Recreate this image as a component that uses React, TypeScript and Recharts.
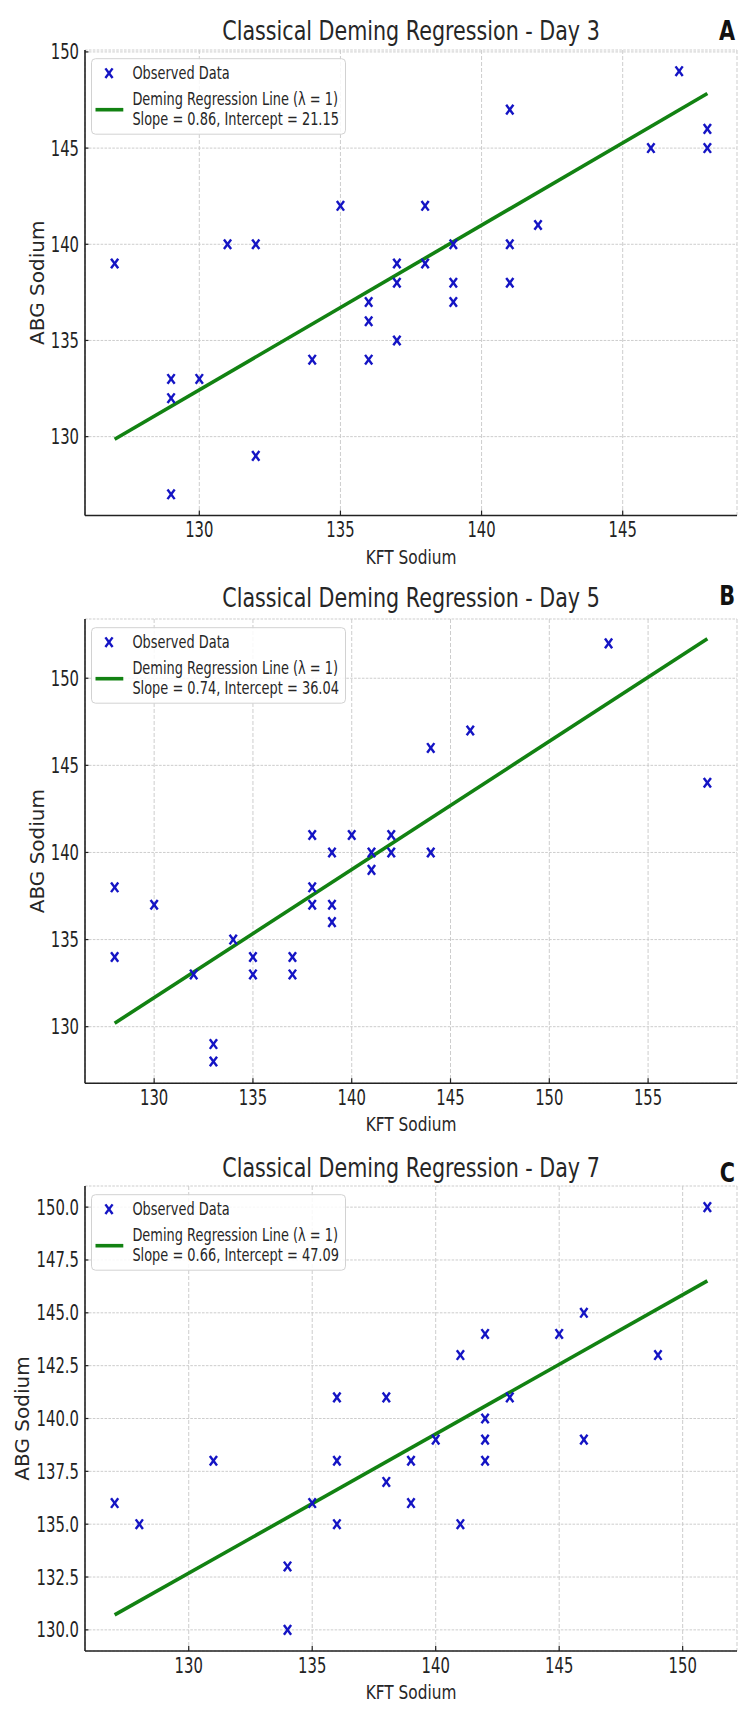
import React from "react";
import { ScatterChart, Scatter, XAxis, YAxis, CartesianGrid } from "recharts";

// KFT vs ABG sodium readings, one pair of arrays per day
const day3Kft = [127, 131, 132, 135, 138, 137, 138, 139, 141, 141, 142, 146, 147, 148, 148, 137, 139, 141, 139, 136, 136, 137, 134, 136, 129, 130, 129, 132, 129];
const day3Abg = [139, 140, 140, 142, 142, 139, 139, 140, 140, 147, 141, 145, 149, 146, 145, 138, 138, 138, 137, 137, 136, 135, 134, 134, 133, 133, 132, 129, 127];

const day5Kft = [153, 146, 144, 158, 138, 140, 142, 139, 141, 142, 144, 141, 128, 130, 138, 138, 139, 139, 134, 128, 135, 137, 132, 135, 137, 133, 133];
const day5Abg = [152, 147, 146, 144, 141, 141, 141, 140, 140, 140, 140, 139, 138, 137, 138, 137, 137, 136, 135, 134, 134, 134, 133, 133, 133, 129, 128];

const day7Kft = [151, 146, 142, 145, 141, 149, 136, 138, 143, 142, 140, 142, 146, 131, 136, 139, 142, 138, 127, 135, 139, 128, 136, 141, 134, 134];
const day7Abg = [150, 145, 144, 144, 143, 143, 141, 141, 141, 140, 139, 139, 139, 138, 138, 138, 138, 137, 136, 136, 136, 135, 135, 135, 133, 130];

// Deming fit (lambda = 1) per day
const slopes = [0.856, 0.7356, 0.6584];
const intercepts = [21.15, 36.04, 47.09];

const dayNames = ["Day 3", "Day 5", "Day 7"];
const panelLetters = ["A", "B", "C"];

// tick labels
const xTicks = [
  [130, 135, 140, 145],
  [130, 135, 140, 145, 150, 155],
  [130, 135, 140, 145, 150],
];
const yTicks = [
  [130, 135, 140, 145, 150],
  [130, 135, 140, 145, 150],
  [130, 132.5, 135, 137.5, 140, 142.5, 145, 147.5, 150],
];
const yTickDecimals = [0, 0, 1];

const FONT = '"DejaVu Sans", Verdana, sans-serif';
const BLUE = "#1414c4";
const GREEN = "#128212";
const INK = "#222";
const GRID = "#cdcdcd";

const PAGE_W = 750;
const PAGE_H = 1723;
const PLOT_LEFT = 85;
const PLOT_RIGHT = 737;
const PAD_TOP = 10;
const X_AXIS_H = 60;

const layouts = [
  { plotTop: 50, plotBottom: 515.5, xDomain: [125.95, 149.05], yDomain: [125.9, 150.1], titleY: 40, letterY: 40, yLabelX: 37 },
  { plotTop: 619, plotBottom: 1083.3, xDomain: [126.5, 159.5], yDomain: [126.75, 153.4], titleY: 607, letterY: 605, yLabelX: 36.5 },
  { plotTop: 1186, plotBottom: 1651, xDomain: [125.8, 152.2], yDomain: [129, 151], titleY: 1177, letterY: 1181.5, yLabelX: 21.5 },
];

const XTick = (props: any) => {
  const { x, y, payload } = props;
  return (
    <g>
      <line x1={x} x2={x} y1={y} y2={y - 5} stroke={INK} strokeWidth={1.2} />
      <text
        transform={`translate(${x},${y + 21.5}) scale(0.72,1)`}
        textAnchor="middle"
        fontSize={20.6}
        fontFamily={FONT}
        fill={INK}
      >
        {payload.value}
      </text>
    </g>
  );
};

const YTick = (props: any) => {
  const { x, y, payload, decimals } = props;
  return (
    <g>
      <line x1={x} x2={x + 3.5} y1={y} y2={y} stroke={INK} strokeWidth={1.2} />
      <text
        transform={`translate(${x - 6},${y + 7.5}) scale(0.72,1)`}
        textAnchor="end"
        fontSize={20.6}
        fontFamily={FONT}
        fill={INK}
      >
        {Number(payload.value).toFixed(decimals)}
      </text>
    </g>
  );
};

// "x" marker, a little taller than wide
const Cross = (props: any) => {
  const { cx, cy } = props;
  if (cx == null || cy == null) return <g />;
  return (
    <g stroke={BLUE} strokeWidth={2.4}>
      <line x1={cx - 3.6} y1={cy - 4.8} x2={cx + 3.6} y2={cy + 4.8} />
      <line x1={cx - 3.6} y1={cy + 4.8} x2={cx + 3.6} y2={cy - 4.8} />
    </g>
  );
};

const NoShape = () => <g />;

function Panel({ index }: { index: number }) {
  const kft = [day3Kft, day5Kft, day7Kft][index];
  const abg = [day3Abg, day5Abg, day7Abg][index];
  const slope = slopes[index];
  const intercept = intercepts[index];
  const lay = layouts[index];

  const points = kft.map((x, i) => ({ x, y: abg[i] }));
  const xMin = Math.min(...kft);
  const xMax = Math.max(...kft);
  const fitLine = [
    { x: xMin, y: slope * xMin + intercept },
    { x: xMax, y: slope * xMax + intercept },
  ];

  const chartTop = lay.plotTop - PAD_TOP;
  const chartH = lay.plotBottom - lay.plotTop + PAD_TOP + X_AXIS_H;
  const cx = (PLOT_LEFT + PLOT_RIGHT) / 2;
  const cy = (lay.plotTop + lay.plotBottom) / 2;
  const lg = lay.plotTop + 8.7; // legend box top

  return (
    <>
      <div style={{ position: "absolute", left: 0, top: chartTop }}>
        <ScatterChart
          width={PAGE_W}
          height={chartH}
          margin={{ top: PAD_TOP, right: PAGE_W - PLOT_RIGHT, bottom: 0, left: 0 }}
        >
          <CartesianGrid horizontal={false} stroke={GRID} strokeDasharray="4 2" />
          <CartesianGrid vertical={false} stroke={GRID} strokeDasharray="2.6 1.3" />
          <XAxis
            type="number"
            dataKey="x"
            domain={lay.xDomain}
            ticks={xTicks[index]}
            allowDataOverflow
            height={X_AXIS_H}
            tickSize={0}
            tickMargin={0}
            tickLine={false}
            axisLine={{ stroke: INK, strokeWidth: 1.6 }}
            tick={<XTick />}
            interval={0}
          />
          <YAxis
            type="number"
            dataKey="y"
            domain={lay.yDomain}
            ticks={yTicks[index]}
            allowDataOverflow
            width={PLOT_LEFT}
            tickSize={0}
            tickMargin={0}
            tickLine={false}
            axisLine={{ stroke: INK, strokeWidth: 1.6 }}
            tick={<YTick decimals={yTickDecimals[index]} />}
            interval={0}
          />
          <Scatter
            data={fitLine}
            line={{ stroke: GREEN, strokeWidth: 3.6 }}
            shape={NoShape}
            isAnimationActive={false}
          />
          <Scatter data={points} shape={Cross} isAnimationActive={false} />
        </ScatterChart>
      </div>

      <svg
        width={PAGE_W}
        height={PAGE_H}
        style={{ position: "absolute", left: 0, top: 0, pointerEvents: "none" }}
        fontFamily={FONT}
      >
        <text
          transform={`translate(${cx},${lay.titleY}) scale(0.754,1)`}
          textAnchor="middle"
          fontSize={27.4}
          fill="#262626"
        >
          {`Classical Deming Regression - ${dayNames[index]}`}
        </text>
        <text
          transform={`translate(735,${lay.letterY}) scale(0.8,1)`}
          textAnchor="end"
          fontSize={26}
          fontWeight="bold"
          fill="#111"
        >
          {panelLetters[index]}
        </text>
        <text
          transform={`translate(${cx},${lay.plotBottom + 48}) scale(0.8,1)`}
          textAnchor="middle"
          fontSize={19.2}
          fill="#262626"
        >
          KFT Sodium
        </text>
        <text
          transform={`translate(${lay.yLabelX + 7.3},${cy}) rotate(-90)`}
          textAnchor="middle"
          fontSize={20}
          fill="#262626"
        >
          ABG Sodium
        </text>

        {/* legend */}
        <rect x={91.5} y={lg} width={254} height={75.5} rx={4} fill="rgba(255,255,255,0.85)" stroke="#d2d2d2" strokeWidth={1} />
        <Cross cx={109} cy={lg + 14.5} />
        <line x1={95.5} x2={123.3} y1={lg + 51} y2={lg + 51} stroke={GREEN} strokeWidth={3.6} />
        <g fontSize={18.5} fill="#262626">
          <text transform={`translate(132.4,${lg + 20.5}) scale(0.7,1)`}>Observed Data</text>
          <text transform={`translate(132.4,${lg + 46.7}) scale(0.7,1)`}>Deming Regression Line (λ = 1)</text>
          <text transform={`translate(132.4,${lg + 66}) scale(0.7,1)`}>
            {`Slope = ${slope.toFixed(2)}, Intercept = ${intercept.toFixed(2)}`}
          </text>
        </g>
      </svg>
    </>
  );
}

export default function App() {
  return (
    <div
      style={{
        position: "absolute",
        left: 0,
        top: 0,
        width: PAGE_W,
        height: PAGE_H,
        background: "#fff",
        overflow: "hidden",
      }}
    >
      {[0, 1, 2].map((i) => (
        <Panel key={i} index={i} />
      ))}
    </div>
  );
}
